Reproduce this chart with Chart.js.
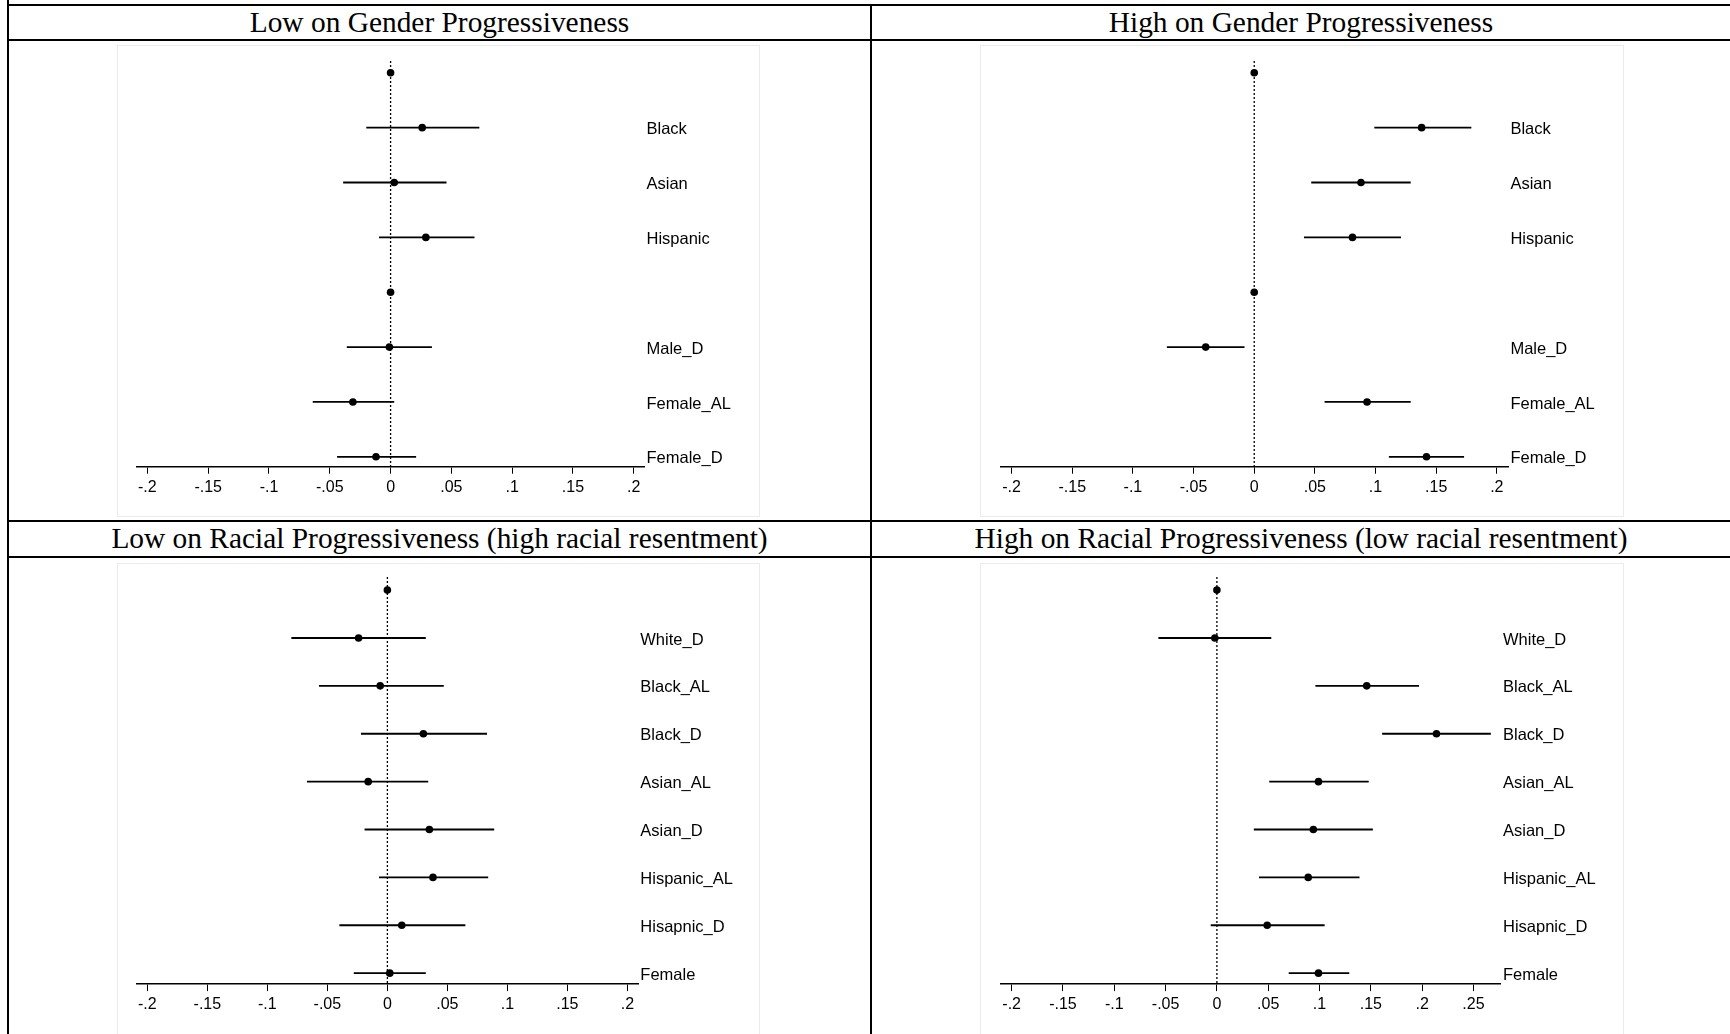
<!DOCTYPE html>
<html><head><meta charset="utf-8">
<script src="https://cdn.jsdelivr.net/npm/chart.js@4.4.1/dist/chart.umd.min.js"></script>
<style>
html,body{margin:0;padding:0;background:#fff;width:1730px;height:1034px;overflow:hidden;position:relative;font-family:"Liberation Sans",Arial,sans-serif}
.hl{position:absolute;background:#000;height:2px}
.vl{position:absolute;background:#000;width:2px}
.title{position:absolute;font-family:"Liberation Serif","Times New Roman",serif;font-size:29.4px;text-align:center;line-height:35px;height:35px;color:#000;white-space:nowrap}
.box{position:absolute;border:1px solid #e8ecef;box-sizing:border-box}
.cw{position:absolute}
</style></head>
<body>
<div class="hl" style="left:7px;top:4px;width:1723px"></div>
<div class="hl" style="left:7px;top:39px;width:1723px"></div>
<div class="hl" style="left:7px;top:520px;width:1723px"></div>
<div class="hl" style="left:7px;top:556px;width:1723px"></div>
<div class="vl" style="left:7px;top:0;height:1034px"></div>
<div class="vl" style="left:870px;top:4px;height:1030px"></div>

<div class="title" style="left:9px;top:5px;width:861px">Low on Gender Progressiveness</div>
<div class="title" style="left:872px;top:5px;width:858px">High on Gender Progressiveness</div>
<div class="title" style="left:9px;top:521px;width:861px">Low on Racial Progressiveness (high racial resentment)</div>
<div class="title" style="left:872px;top:521px;width:858px">High on Racial Progressiveness (low racial resentment)</div>

<div class="box" style="left:117px;top:45px;width:643px;height:472px"></div>
<div class="box" style="left:980px;top:45px;width:644px;height:472px"></div>
<div class="box" style="left:117px;top:563px;width:643px;height:480px"></div>
<div class="box" style="left:980px;top:563px;width:644px;height:480px"></div>

<div class="cw" style="left:117px;top:45px;width:643px;height:472px"><canvas id="c1"></canvas></div>
<div class="cw" style="left:980px;top:45px;width:644px;height:472px"><canvas id="c2"></canvas></div>
<div class="cw" style="left:117px;top:563px;width:643px;height:471px"><canvas id="c3"></canvas></div>
<div class="cw" style="left:980px;top:563px;width:644px;height:471px"><canvas id="c4"></canvas></div>

<script>
// ---- categories ----
const genderLabels = ["", "Black", "Asian", "Hispanic", "", "Male_D", "Female_AL", "Female_D"];
const racialLabels = ["", "White_D", "Black_AL", "Black_D", "Asian_AL", "Asian_D", "Hispanic_AL", "Hisapnic_D", "Female"];

// ---- Low on Gender Progressiveness ----
const lowGenderEst = [0, 0.026, 0.003, 0.029, 0, -0.001, -0.031, -0.012];
const lowGenderLo  = [null, -0.020, -0.039, -0.0095, null, -0.036, -0.064, -0.044];
const lowGenderHi  = [null, 0.073, 0.046, 0.069, null, 0.034, 0.003, 0.021];

// ---- High on Gender Progressiveness ----
const highGenderEst = [0, 0.138, 0.088, 0.081, 0, -0.040, 0.093, 0.142];
const highGenderLo  = [null, 0.099, 0.047, 0.041, null, -0.072, 0.058, 0.111];
const highGenderHi  = [null, 0.179, 0.129, 0.121, null, -0.008, 0.129, 0.173];

// ---- Low on Racial Progressiveness ----
const lowRacialEst = [0, -0.024, -0.006, 0.030, -0.016, 0.035, 0.038, 0.012, 0.002];
const lowRacialLo  = [null, -0.080, -0.057, -0.022, -0.067, -0.019, -0.007, -0.040, -0.028];
const lowRacialHi  = [null, 0.032, 0.047, 0.083, 0.034, 0.089, 0.084, 0.065, 0.032];

// ---- High on Racial Progressiveness ----
const highRacialEst = [0, -0.002, 0.146, 0.214, 0.099, 0.094, 0.089, 0.049, 0.099];
const highRacialLo  = [null, -0.057, 0.096, 0.161, 0.051, 0.036, 0.041, -0.006, 0.070];
const highRacialHi  = [null, 0.053, 0.197, 0.267, 0.148, 0.152, 0.139, 0.105, 0.129];

// ---- x-axis ticks ----
const tickValuesA = [-0.2, -0.15, -0.1, -0.05, 0, 0.05, 0.1, 0.15, 0.2];
const tickLabelsA = ["-.2", "-.15", "-.1", "-.05", "0", ".05", ".1", ".15", ".2"];
const tickValuesB = [-0.2, -0.15, -0.1, -0.05, 0, 0.05, 0.1, 0.15, 0.2, 0.25];
const tickLabelsB = ["-.2", "-.15", "-.1", "-.05", "0", ".05", ".1", ".15", ".2", ".25"];

const referenceValue = 0;

const FONT = '"Liberation Sans", Arial, sans-serif';

const refLinePlugin = {
  id: 'refLine',
  beforeDatasetsDraw(chart) {
    const {ctx, chartArea, scales} = chart;
    const x = scales.x.getPixelForValue(referenceValue);
    ctx.save();
    ctx.strokeStyle = '#000';
    ctx.lineWidth = 1.3;
    ctx.setLineDash([2, 2]);
    ctx.beginPath();
    ctx.moveTo(x, chartArea.top);
    ctx.lineTo(x, chartArea.bottom);
    ctx.stroke();
    ctx.restore();
  }
};

function makeChart(id, labels, est, lo, hi, tickVals, tickLabels, L) {
  const datasets = [];
  labels.forEach((_, i) => {
    if (lo[i] !== null && hi[i] !== null) {
      datasets.push({
        data: [{x: lo[i], y: i}, {x: hi[i], y: i}],
        showLine: true, borderColor: '#000', borderWidth: 1.8,
        pointRadius: 0, pointHoverRadius: 0
      });
    }
  });
  datasets.push({
    data: est.map((v, i) => ({x: v, y: i})),
    showLine: false, pointRadius: 3.8, pointBackgroundColor: '#000',
    pointBorderWidth: 0, pointBorderColor: '#000'
  });
  return new Chart(document.getElementById(id), {
    type: 'scatter',
    data: {datasets},
    options: {
      responsive: true, maintainAspectRatio: false, animation: false, events: [],
      layout: {padding: {left: L.padLeft, top: L.padTop, right: 0, bottom: 0}},
      plugins: {legend: {display: false}, tooltip: {enabled: false}},
      scales: {
        x: {
          type: 'linear', position: 'bottom', min: L.xmin, max: L.xmax,
          afterBuildTicks: s => { s.ticks = tickVals.map(v => ({value: v})); },
          afterFit: s => { s.height = L.xAxisHeight; },
          grid: {display: true, drawOnChartArea: false, drawTicks: true, tickLength: 7, color: '#000', lineWidth: 1},
          border: {display: true, color: '#000', width: 1.5},
          ticks: {color: '#000', font: {family: FONT, size: 16}, padding: 4, maxRotation: 0, autoSkip: false,
                  callback: (v, i) => tickLabels[i]}
        },
        y: {
          type: 'linear', position: 'right', reverse: true, min: L.ymin, max: L.ymax,
          afterBuildTicks: s => { s.ticks = labels.map((_, i) => ({value: i})); },
          afterFit: s => { s.width = L.yAxisWidth; },
          grid: {display: false, drawTicks: false},
          border: {display: false},
          ticks: {color: '#000', font: {family: FONT, size: 16.5}, padding: L.labelPad, labelOffset: 2, autoSkip: false,
                  callback: (v, i) => labels[i]}
        }
      }
    },
    plugins: [refLinePlugin]
  });
}

makeChart('c1', genderLabels, lowGenderEst, lowGenderLo, lowGenderHi, tickValuesA, tickLabelsA,
  {padLeft: 19.8, padTop: 16, xAxisHeight: 50.3, yAxisWidth: 116, labelPad: 2.5,
   xmin: -0.2087, xmax: 0.2084, ymin: -0.215, ymax: 7.18});
makeChart('c2', genderLabels, highGenderEst, highGenderLo, highGenderHi, tickValuesA, tickLabelsA,
  {padLeft: 20.7, padTop: 16, xAxisHeight: 50.3, yAxisWidth: 116, labelPad: 2.4,
   xmin: -0.209, xmax: 0.2092, ymin: -0.215, ymax: 7.18});
makeChart('c3', racialLabels, lowRacialEst, lowRacialLo, lowRacialHi, tickValuesA, tickLabelsA,
  {padLeft: 19.8, padTop: 14, xAxisHeight: 49.9, yAxisWidth: 121.2, labelPad: 1.5,
   xmin: -0.2088, xmax: 0.2095, ymin: -0.274, ymax: 8.229});
makeChart('c4', racialLabels, highRacialEst, highRacialLo, highRacialHi, tickValuesB, tickLabelsB,
  {padLeft: 20.7, padTop: 14, xAxisHeight: 49.9, yAxisWidth: 123.5, labelPad: 2.5,
   xmin: -0.2107, xmax: 0.2764, ymin: -0.274, ymax: 8.229});
</script>
</body></html>
